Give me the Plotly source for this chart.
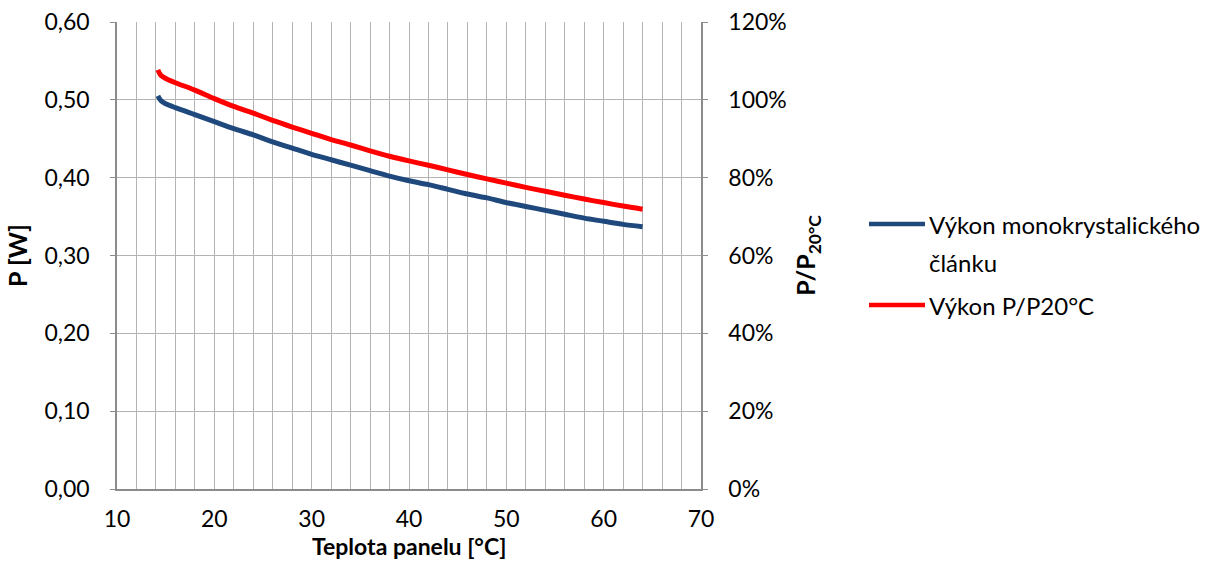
import plotly.graph_objects as go

temperature = [14.2, 14.5, 15, 16, 18, 20, 22, 24, 26, 28, 30, 32, 34, 36, 38, 40,
               42, 44, 46, 48, 50, 52, 54, 56, 58, 60, 62, 64]
power_w = [0.505, 0.499, 0.495, 0.490, 0.481, 0.472, 0.463, 0.455, 0.446, 0.438,
           0.430, 0.423, 0.416, 0.409, 0.402, 0.396, 0.391, 0.385, 0.379, 0.374,
           0.368, 0.363, 0.358, 0.353, 0.348, 0.344, 0.340, 0.337]
power_ratio = [1.077, 1.063, 1.055, 1.044, 1.025, 1.003, 0.983, 0.966, 0.947, 0.930,
               0.914, 0.898, 0.884, 0.869, 0.855, 0.843, 0.832, 0.820, 0.808, 0.797,
               0.786, 0.775, 0.765, 0.755, 0.745, 0.736, 0.727, 0.719]
series_names = ["Výkon monokrystalického", "článku", "Výkon P/P20°C"]

FONT = "Lato, Carlito, 'Open Sans', sans-serif"
GRID = "#b3b3b3"
AXIS = "#8c8c8c"
BLUE = "#1f497d"
RED = "#ff0000"

fig = go.Figure()
fig.add_trace(go.Scatter(x=temperature, y=power_w, mode="lines",
                         name=series_names[0] + " " + series_names[1], showlegend=False,
                         line=dict(color=BLUE, width=5, shape="spline", smoothing=0.8)))
fig.add_trace(go.Scatter(x=temperature, y=power_ratio, mode="lines", yaxis="y2",
                         name=series_names[2], showlegend=False,
                         line=dict(color=RED, width=5, shape="spline", smoothing=0.8)))

# manual legend (pixel -> paper conversion for plot area 117..701 x 22..489)
def px(xp):
    return (xp - 117) / 584.0

def py(yp):
    return (489 - yp) / 467.0

for color, ypix in [(BLUE, 224), (RED, 305)]:
    fig.add_shape(type="line", xref="paper", yref="paper",
                  x0=px(869), x1=px(925), y0=py(ypix), y1=py(ypix),
                  line=dict(color=color, width=4.5))
for text, ypix in [(series_names[0], 224), (series_names[1], 262), (series_names[2], 305)]:
    fig.add_annotation(xref="paper", yref="paper", x=px(927), y=py(ypix),
                       xanchor="left", yanchor="middle", text=text, showarrow=False,
                       font=dict(size=24, family=FONT, color="#000"))

# x axis title placed as annotation to keep it clear of the tick labels
fig.add_annotation(xref="paper", yref="paper", x=0.5, y=py(546),
                   xanchor="center", yanchor="middle", showarrow=False,
                   text="<b>Teplota panelu [°C]</b>",
                   font=dict(size=23, family=FONT, color="#000"))

fig.update_layout(
    width=1210, height=563,
    margin=dict(l=117, r=509, t=22, b=74, autoexpand=False),
    paper_bgcolor="white", plot_bgcolor="white",
    separators=", ",
    font=dict(family=FONT, size=23, color="#000000"),
    showlegend=False,
    xaxis=dict(range=[10, 70], dtick=10, tick0=10, showgrid=True, gridcolor=GRID,
               gridwidth=1, showline=True, linecolor=AXIS, linewidth=1.5,
               mirror=False, ticks="", zeroline=False, ticklabelstandoff=9,
               automargin=False,
               minor=dict(dtick=2, showgrid=True, gridcolor=GRID, gridwidth=1),
               tickfont=dict(size=23)),
    yaxis=dict(range=[0, 0.6], dtick=0.1, tickformat=".2f", showgrid=True,
               gridcolor=GRID, gridwidth=1, showline=True, linecolor=AXIS,
               linewidth=1.5, ticks="outside", ticklen=5, tickcolor=AXIS,
               zeroline=False, tickfont=dict(size=23), ticklabelstandoff=16,
               automargin=False,
               title=dict(text="<b>P [W]</b>", font=dict(size=25), standoff=10)),
    yaxis2=dict(range=[0, 1.2], dtick=0.2, tickformat=".0%", overlaying="y",
                side="right", showgrid=False, showline=True, linecolor=AXIS,
                linewidth=1.5, ticks="outside", ticklen=5, tickcolor=AXIS,
                zeroline=False, tickfont=dict(size=23), ticklabelstandoff=16,
                automargin=False,
                title=dict(text="<b>P/P<sub>20°C</sub></b>", font=dict(size=25), standoff=12)),
)

fig.write_html("out.html")
